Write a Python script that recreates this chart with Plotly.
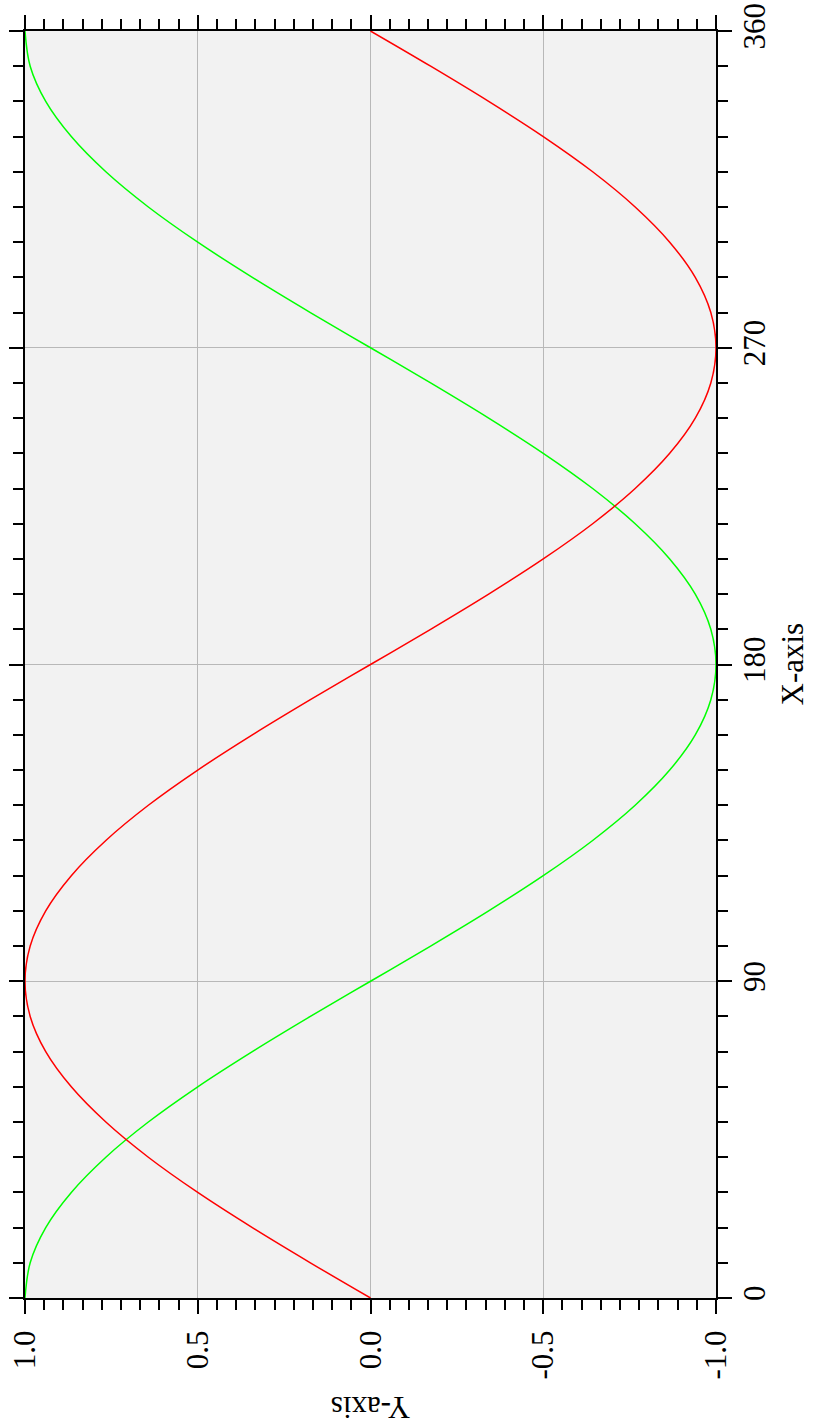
import plotly.graph_objects as go

# Data (X in degrees, Y values)
angle_deg = [0, 10, 20, 30, 40, 50, 60, 70, 80, 90,
             100, 110, 120, 130, 140, 150, 160, 170, 180,
             190, 200, 210, 220, 230, 240, 250, 260, 270,
             280, 290, 300, 310, 320, 330, 340, 350, 360]
red_vals = [0.000, 0.174, 0.342, 0.500, 0.643, 0.766, 0.866, 0.940, 0.985, 1.000,
            0.985, 0.940, 0.866, 0.766, 0.643, 0.500, 0.342, 0.174, 0.000,
            -0.174, -0.342, -0.500, -0.643, -0.766, -0.866, -0.940, -0.985, -1.000,
            -0.985, -0.940, -0.866, -0.766, -0.643, -0.500, -0.342, -0.174, 0.000]
green_vals = [1.000, 0.985, 0.940, 0.866, 0.766, 0.643, 0.500, 0.342, 0.174, 0.000,
              -0.174, -0.342, -0.500, -0.643, -0.766, -0.866, -0.940, -0.985, -1.000,
              -0.985, -0.940, -0.866, -0.766, -0.643, -0.500, -0.342, -0.174, 0.000,
              0.174, 0.342, 0.500, 0.643, 0.766, 0.866, 0.940, 0.985, 1.000]

val_ticks = [1.0, 0.5, 0.0, -0.5, -1.0]
val_labels = ["1.0", "0.5", "0.0", "-0.5", "-1.0"]
deg_ticks = [0, 90, 180, 270, 360]
deg_labels = ["0", "90", "180", "270", "360"]

FONT = "Liberation Serif"
FS = 31

fig = go.Figure()
fig.add_trace(go.Scatter(x=green_vals, y=angle_deg, mode="lines",
                         line=dict(color="#00ff00", width=1.5, shape="spline"),
                         name="green"))
fig.add_trace(go.Scatter(x=red_vals, y=angle_deg, mode="lines",
                         line=dict(color="#ff0000", width=1.5, shape="spline"),
                         name="red"))

fig.update_layout(
    width=813, height=1428,
    margin=dict(l=25, r=97, t=31, b=130, autoexpand=False),
    paper_bgcolor="white", plot_bgcolor="#f2f2f2",
    showlegend=False,
    font=dict(family=FONT, size=FS, color="black"),
)

fig.update_xaxes(
    range=[1.0, -1.0], automargin=False,
    tickmode="array", tickvals=val_ticks, ticktext=val_labels,
    tickangle=-90, ticklabelstandoff=4,
    ticks="outside", ticklen=14, tickwidth=1.5, tickcolor="black",
    showline=True, linecolor="black", linewidth=2, mirror="ticks",
    showgrid=True, gridcolor="#b8b8b8", gridwidth=1.2, zeroline=False,
    tickfont=dict(family=FONT, size=FS, color="black"),
    minor=dict(tickmode="linear", tick0=0, dtick=0.5 / 9, ticks="outside",
               ticklen=10, tickwidth=1.5, tickcolor="black", showgrid=False),
)

fig.update_yaxes(
    range=[0, 360], side="right", automargin=False,
    tickmode="array", tickvals=deg_ticks, ticktext=deg_labels,
    tickangle=-90, ticklabelstandoff=-4,
    ticks="outside", ticklen=14, tickwidth=1.5, tickcolor="black",
    showline=True, linecolor="black", linewidth=2, mirror="ticks",
    showgrid=True, gridcolor="#b8b8b8", gridwidth=1.2, zeroline=False,
    tickfont=dict(family=FONT, size=FS, color="black"),
    minor=dict(tickmode="linear", tick0=0, dtick=10, ticks="outside",
               ticklen=10, tickwidth=1.5, tickcolor="black", showgrid=False),
)

fig.add_annotation(
    text="X-axis", textangle=-90,
    xref="paper", yref="paper", x=1.0, y=0.5, xshift=76,
    xanchor="center", yanchor="middle", showarrow=False,
    font=dict(family=FONT, size=FS, color="black"),
)

fig.add_annotation(
    text="Y-axis", textangle=180,
    xref="paper", yref="paper", x=0.5, y=-0.086,
    xanchor="center", yanchor="middle", showarrow=False,
    font=dict(family=FONT, size=FS, color="black"),
)

fig.write_html("out.html",
               config={"displayModeBar": False},
               post_script="document.body.style.margin='0px';")
